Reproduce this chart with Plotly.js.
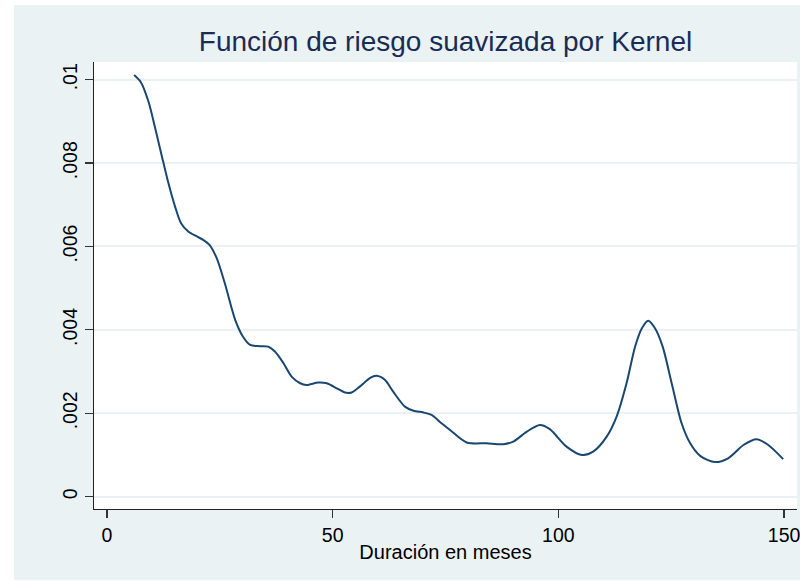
<!DOCTYPE html>
<html>
<head>
<meta charset="utf-8">
<script src="https://cdn.plot.ly/plotly-3.0.1.min.js"></script>
<style>
html,body{margin:0;padding:0;background:#ffffff;}
#chart{width:800px;height:581px;}
</style>
</head>
<body>
<div id="chart"></div>
<script>
// Duration in months
const durationMonths = [6.0, 7.5, 9.2, 10.6, 12.1, 13.6, 15.1, 16.4, 18.0, 19.9, 21.3, 22.7, 24.3, 26.1, 28.4, 30.1, 31.7, 33.9, 35.7, 37.2, 39.1, 40.9, 42.8, 44.2, 46.8, 48.7, 50.9, 52.7, 54.2, 56.0, 58.3, 59.7, 61.6, 63.4, 66.0, 67.9, 70.1, 71.9, 74.1, 76.0, 79.7, 84.1, 87.8, 90.0, 93.0, 95.9, 98.1, 101.8, 105.2, 107.7, 110.7, 112.9, 115.1, 117.0, 118.5, 119.9, 121.4, 123.1, 125.1, 127.3, 129.2, 131.4, 134.7, 137.6, 141.0, 143.9, 146.5, 149.8];
// Kernel-smoothed hazard
const hazard = [0.01011, 0.00994, 0.00947, 0.00887, 0.00819, 0.00752, 0.00695, 0.00656, 0.00636, 0.00624, 0.00616, 0.00604, 0.00572, 0.00512, 0.00424, 0.00384, 0.00364, 0.00361, 0.00360, 0.00348, 0.00320, 0.00288, 0.00272, 0.00268, 0.00274, 0.00272, 0.00260, 0.00250, 0.00250, 0.00264, 0.00285, 0.00290, 0.00280, 0.00252, 0.00216, 0.00206, 0.00202, 0.00196, 0.00176, 0.00160, 0.00130, 0.00128, 0.00126, 0.00132, 0.00156, 0.00172, 0.00162, 0.00120, 0.00100, 0.00108, 0.00144, 0.00192, 0.00272, 0.00360, 0.00404, 0.00422, 0.00404, 0.00360, 0.00272, 0.00176, 0.00128, 0.00098, 0.00083, 0.00092, 0.00124, 0.00138, 0.00124, 0.00090];

const xTickVals = [0, 50, 100, 150];
const xTickText = ['0', '50', '100', '150'];
const yTickVals = [0, 0.002, 0.004, 0.006, 0.008, 0.01];
const yTickText = ['0', '.002', '.004', '.006', '.008', '.01'];

const chartTitle = 'Función de riesgo suavizada por Kernel';
const xTitle = 'Duración en meses';

const FONT = '"Liberation Sans", Arial, Helvetica, sans-serif';
const BG = '#EAF2F3';

const trace = {
  x: durationMonths,
  y: hazard,
  type: 'scatter',
  mode: 'lines',
  line: {color: '#1a476f', width: 2, shape: 'spline', smoothing: 0.8},
  hoverinfo: 'x+y'
};

const layout = {
  width: 800,
  height: 581,
  margin: {l: 94, r: 3, t: 62, b: 72, pad: 0},
  paper_bgcolor: '#ffffff',
  plot_bgcolor: '#ffffff',
  showlegend: false,
  font: {family: FONT, color: '#000000', size: 20},
  title: {
    text: chartTitle,
    font: {family: FONT, size: 28, color: '#1a2c55'},
    x: 0.5, xref: 'paper', xanchor: 'center',
    y: 1 - 41.5 / 581, yref: 'container', yanchor: 'middle'
  },
  xaxis: {
    range: [-2.88, 152.86],
    tickmode: 'array',
    tickvals: xTickVals,
    ticktext: xTickText,
    ticks: 'outside',
    ticklen: 8,
    tickwidth: 1.2,
    tickcolor: '#333333',
    showline: true,
    linecolor: '#222222',
    linewidth: 1.2,
    showgrid: false,
    zeroline: false,
    ticklabeloverflow: 'allow',
    tickfont: {family: FONT, size: 19.5, color: '#000000'},
    title: {text: xTitle, font: {family: FONT, size: 20, color: '#000000'}, standoff: 0},
    automargin: false
  },
  yaxis: {
    range: [-0.000295, 0.010424],
    tickmode: 'array',
    tickvals: yTickVals,
    ticktext: yTickText,
    tickangle: -90,
    ticks: 'outside',
    ticklen: 8,
    tickwidth: 1.2,
    tickcolor: '#333333',
    showline: true,
    linecolor: '#222222',
    linewidth: 1.2,
    showgrid: true,
    gridcolor: BG,
    gridwidth: 2,
    zeroline: false,
    tickfont: {family: FONT, size: 19.5, color: '#000000'},
    automargin: false
  },
  shapes: [
    {type: 'rect', xref: 'paper', yref: 'paper', layer: 'below',
     x0: (14 - 94) / 703, x1: (800 - 94) / 703, y0: (509 - 580) / 447, y1: (509 - 5) / 447,
     fillcolor: BG, line: {width: 0}},
    {type: 'rect', xref: 'paper', yref: 'paper', layer: 'below',
     x0: 0, x1: 1, y0: 0, y1: 1,
     fillcolor: '#ffffff', line: {width: 0}}
  ]
};

Plotly.newPlot('chart', [trace], layout, {displayModeBar: false, staticPlot: true});
</script>
</body>
</html>
